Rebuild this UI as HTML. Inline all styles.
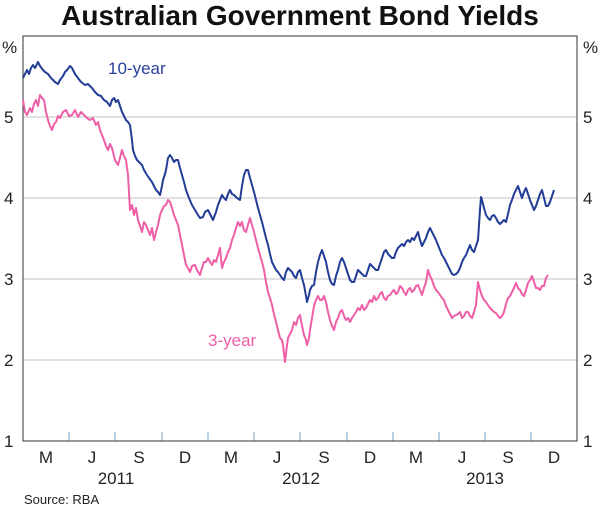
<!DOCTYPE html>
<html><head><style>body{margin:0;background:#fff}svg{display:block}text{font-family:"Liberation Sans",Arial,sans-serif}</style></head><body>
<svg width="600" height="508" viewBox="0 0 600 508">
<text x="300" y="25" font-size="28" font-weight="bold" text-anchor="middle" fill="#111">Australian Government Bond Yields</text>
<g stroke="#c0c0c0" stroke-width="1">
<line x1="23" y1="117" x2="577" y2="117"/><line x1="23" y1="198" x2="577" y2="198"/><line x1="23" y1="279" x2="577" y2="279"/><line x1="23" y1="360" x2="577" y2="360"/>
</g>
<g stroke="#7aa0c8" stroke-width="1">
<line x1="69" y1="441" x2="69" y2="432"/><line x1="115" y1="441" x2="115" y2="432"/><line x1="162" y1="441" x2="162" y2="432"/><line x1="208" y1="441" x2="208" y2="432"/><line x1="254" y1="441" x2="254" y2="432"/><line x1="300" y1="441" x2="300" y2="432"/><line x1="347" y1="441" x2="347" y2="432"/><line x1="393" y1="441" x2="393" y2="432"/><line x1="439" y1="441" x2="439" y2="432"/><line x1="485" y1="441" x2="485" y2="432"/><line x1="531" y1="441" x2="531" y2="432"/>
</g>
<rect x="23" y="36" width="554" height="405" fill="none" stroke="#333" stroke-width="1"/>
<g font-size="17" fill="#222">
<text x="2" y="53">%</text><text x="583" y="53">%</text>
<text x="4" y="123">5</text><text x="4" y="204">4</text><text x="4" y="285">3</text><text x="4" y="366">2</text><text x="4" y="447">1</text>
<text x="583" y="123">5</text><text x="583" y="204">4</text><text x="583" y="285">3</text><text x="583" y="366">2</text><text x="583" y="447">1</text>
</g>
<g font-size="17" fill="#222" text-anchor="middle">
<text x="46" y="463">M</text><text x="92" y="463">J</text><text x="139" y="463">S</text><text x="185" y="463">D</text><text x="231" y="463">M</text><text x="277" y="463">J</text><text x="324" y="463">S</text><text x="370" y="463">D</text><text x="416" y="463">M</text><text x="462" y="463">J</text><text x="508" y="463">S</text><text x="554" y="463">D</text>
<text x="116" y="484">2011</text><text x="301" y="484">2012</text><text x="485" y="484">2013</text>
</g>
<text x="24" y="504" font-size="13" fill="#222">Source: RBA</text>
<text x="108" y="74" font-size="17" fill="#2a3f9a">10-year</text>
<text x="208" y="346" font-size="17" fill="#ee5fa7">3-year</text>
<polyline fill="none" stroke="#ee5fa7" stroke-width="2" stroke-linejoin="round" points="23,100 25,112 27,115 30,108 32,112 34,104 36,100 38,106 40,95 42,98 44,100 46,112 48,120 50,126 52,130 54,124 56,122 58,116 60,118 63,112 66,110 69,116 72,115 75,110 78,117 81,112 84,115 87,118 90,120 93,118 96,125 98,122 100,130 102,135 104,140 106,146 108,150 110,144 112,148 114,156 115,160 118,165 120,158 122,150 124,156 126,160 128,175 130,210 132,205 134,215 136,208 138,220 140,226 142,232 144,222 146,225 148,230 150,235 152,228 154,240 156,232 158,225 160,215 162,210 164,206 166,205 168,200 170,202 172,208 174,215 176,220 178,225 180,235 182,245 184,255 186,265 188,268 190,272 192,266 195,265 197,270 200,275 202,268 204,262 206,262 208,258 210,262 212,265 214,260 216,262 218,255 220,248 222,268 224,262 226,258 228,252 230,248 232,240 234,235 236,228 238,222 240,226 242,222 244,230 246,232 248,225 250,218 252,225 254,232 256,240 258,248 260,255 262,262 264,270 266,282 268,292 270,298 272,305 274,314 276,322 278,330 280,338 282,340 283,345 285,362 287,345 288,338 290,334 292,330 294,322 296,325 298,318 300,315 302,326 304,335 306,340 307,345 309,338 310,330 312,318 314,306 316,300 318,296 320,300 322,300 324,296 326,302 328,312 330,320 332,326 334,330 336,322 338,318 340,312 342,310 344,316 346,320 348,318 350,322 352,318 354,315 356,312 358,308 360,310 362,305 364,310 366,308 368,304 370,300 372,302 374,296 376,300 378,298 380,294 382,292 384,298 386,300 388,296 390,295 392,292 394,290 396,294 398,292 400,286 402,288 404,292 406,295 408,290 410,288 412,292 414,290 416,286 418,285 420,290 422,295 424,288 426,282 428,270 430,276 432,280 434,286 436,290 438,292 440,295 442,298 444,300 446,306 448,310 450,314 452,318 454,316 456,315 458,314 460,312 462,318 464,316 466,312 468,312 470,316 472,318 474,312 476,305 478,282 480,290 482,296 484,300 486,302 488,305 490,308 492,310 494,312 496,313 498,316 500,318 502,316 504,312 506,304 508,298 510,296 512,292 514,288 516,283 518,288 520,290 522,294 524,296 526,290 528,283 530,280 532,276 534,282 536,288 538,288 540,290 542,286 544,286 546,278 548,275"/>
<polyline fill="none" stroke="#233d96" stroke-width="2" stroke-linejoin="round" points="23,78 25,74 27,70 29,74 31,68 33,65 35,68 38,62 40,66 43,70 45,72 48,74 51,78 55,82 58,84 60,80 63,76 65,72 67,70 70,66 72,68 75,74 78,78 81,82 85,85 88,84 92,88 95,92 98,95 101,96 104,100 107,102 110,106 112,100 114,98 116,102 118,100 120,106 122,112 124,116 126,120 128,122 130,125 132,140 133,150 135,156 137,160 139,162 142,165 144,170 147,175 149,178 152,182 154,186 156,190 158,192 160,195 162,186 163,180 165,174 166,170 168,158 170,155 172,158 174,162 176,160 178,160 180,168 182,175 184,182 186,190 189,198 192,205 195,210 198,215 200,218 203,217 205,212 208,210 210,214 213,220 216,212 218,205 220,200 222,195 224,198 226,200 228,194 230,190 232,194 234,195 237,198 240,200 242,186 244,175 246,170 248,170 250,178 252,185 254,192 256,200 258,208 260,215 262,222 264,230 266,238 268,245 270,254 272,262 274,266 276,270 278,272 280,275 282,278 284,280 286,272 288,268 290,270 292,272 294,276 296,278 298,272 300,270 302,278 304,285 306,296 307,302 309,295 310,290 312,286 314,285 316,272 318,262 320,255 322,250 324,256 326,262 328,272 330,280 332,284 334,285 336,276 338,270 340,262 342,258 344,262 346,268 348,274 350,280 352,282 354,282 356,276 358,270 360,272 362,274 364,276 366,276 368,270 370,264 372,266 374,268 376,270 378,270 380,264 382,258 384,252 386,250 388,254 390,256 392,258 394,258 396,252 398,248 400,246 402,244 404,246 406,242 408,240 410,242 412,238 414,240 416,236 418,232 420,240 422,246 424,242 426,238 428,232 430,228 432,232 434,236 436,240 438,245 440,250 442,255 444,258 446,262 448,266 450,270 452,274 454,275 456,274 458,272 460,268 462,262 464,258 466,255 468,250 470,245 472,250 474,252 476,246 478,240 480,210 481,197 482,200 484,208 486,215 488,218 490,220 492,216 494,215 496,218 498,222 500,224 502,222 504,220 506,222 508,214 510,205 512,200 514,194 516,190 518,186 520,192 522,198 524,192 526,188 528,194 530,200 532,205 534,210 536,206 538,200 540,194 542,190 544,198 546,206 548,206 550,202 552,196 554,190"/>
</svg>
</body></html>
